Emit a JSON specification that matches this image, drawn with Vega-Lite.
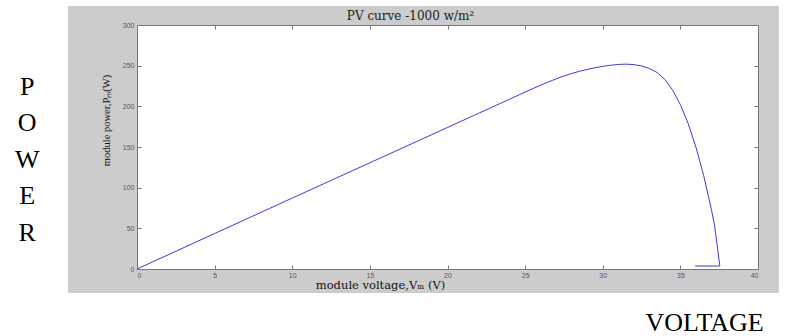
{
  "$schema": "https://vega.github.io/schema/vega-lite/v6.json",
  "width": 621,
  "height": 244,
  "autosize": {"type": "none"},
  "padding": {"left": 137, "top": 25, "right": 35, "bottom": 67},
  "background": "#cccccc",
  "config": {
    "view": {"stroke": null, "fill": "#ffffff"},
    "axis": {
      "zindex": 1,
      "grid": false,
      "domainColor": "#777777",
      "domainWidth": 1,
      "tickColor": "#777777",
      "tickSize": -4,
      "labelFont": "Liberation Sans",
      "labelFontSize": 7,
      "labelColor": "#555555"
    }
  },
  "resolve": {"scale": {"x": "independent", "y": "independent"}},
  "layer": [
    {
      "data": {"name": "pv", "values": [
        {"i": 1, "V": 0, "P": 0},
        {"i": 2, "V": 5, "P": 43.6},
        {"i": 3, "V": 10, "P": 87.2},
        {"i": 4, "V": 15, "P": 130.6},
        {"i": 5, "V": 20, "P": 174},
        {"i": 6, "V": 22, "P": 191.4},
        {"i": 7, "V": 24, "P": 208.8},
        {"i": 8, "V": 25, "P": 217.5},
        {"i": 9, "V": 25.5, "P": 221.8},
        {"i": 10, "V": 26, "P": 226},
        {"i": 11, "V": 26.5, "P": 230},
        {"i": 12, "V": 27, "P": 233.8},
        {"i": 13, "V": 27.5, "P": 237.3},
        {"i": 14, "V": 28, "P": 240.4},
        {"i": 15, "V": 28.5, "P": 243.1},
        {"i": 16, "V": 29, "P": 245.4},
        {"i": 17, "V": 29.5, "P": 247.4},
        {"i": 18, "V": 30, "P": 249.1},
        {"i": 19, "V": 30.5, "P": 250.5},
        {"i": 20, "V": 31, "P": 251.5},
        {"i": 21, "V": 31.5, "P": 251.9},
        {"i": 22, "V": 32, "P": 251.3},
        {"i": 23, "V": 32.5, "P": 249.6},
        {"i": 24, "V": 33, "P": 246.6},
        {"i": 25, "V": 33.5, "P": 241.6},
        {"i": 26, "V": 34, "P": 233},
        {"i": 27, "V": 34.5, "P": 220},
        {"i": 28, "V": 35, "P": 202},
        {"i": 29, "V": 35.5, "P": 179},
        {"i": 30, "V": 36, "P": 150},
        {"i": 31, "V": 36.5, "P": 115},
        {"i": 32, "V": 37, "P": 73},
        {"i": 33, "V": 37.2, "P": 54},
        {"i": 34, "V": 37.35, "P": 32},
        {"i": 35, "V": 37.54, "P": 3.7},
        {"i": 36, "V": 35.95, "P": 3.7}
      ]},
      "mark": {"type": "line", "color": "#3b3bd6", "strokeWidth": 1},
      "encoding": {
        "x": {
          "field": "V", "type": "quantitative",
          "scale": {"domain": [0, 40], "nice": false},
          "axis": {
            "orient": "bottom",
            "values": [0, 5, 10, 15, 20, 25, 30, 35, 40],
            "labelPadding": 6,
            "title": "module voltage,Vₘ (V)",
            "titleFont": "DejaVu Serif",
            "titleFontSize": 11.5,
            "titleFontWeight": "normal",
            "titleColor": "#111111",
            "titleX": 243,
            "titleY": 16,
            "titleAlign": "center",
            "titleBaseline": "middle"
          }
        },
        "y": {
          "field": "P", "type": "quantitative",
          "scale": {"domain": [0, 300], "nice": false},
          "axis": {
            "orient": "left",
            "values": [0, 50, 100, 150, 200, 250, 300],
            "labelPadding": 7,
            "title": "module power,Pₘ(W)",
            "titleFont": "Liberation Serif",
            "titleFontSize": 10.5,
            "titleFontWeight": "normal",
            "titleColor": "#111111",
            "titleAngle": -90,
            "titleX": -31,
            "titleY": 95,
            "titleAlign": "center",
            "titleBaseline": "middle"
          }
        },
        "order": {"field": "i", "type": "quantitative"}
      }
    },
    {
      "data": {"name": "pv"},
      "mark": {"type": "line", "strokeOpacity": 0},
      "encoding": {
        "x": {
          "field": "V", "type": "quantitative",
          "scale": {"domain": [0, 40], "nice": false},
          "axis": {
            "orient": "top",
            "values": [0, 5, 10, 15, 20, 25, 30, 35, 40],
            "labels": false,
            "title": "PV curve -1000 w/m²",
            "titleFont": "DejaVu Serif",
            "titleFontSize": 12,
            "titleFontWeight": "normal",
            "titleColor": "#222222",
            "titleX": 273,
            "titleY": -10,
            "titleAlign": "center",
            "titleBaseline": "middle"
          }
        },
        "y": {
          "field": "P", "type": "quantitative",
          "scale": {"domain": [0, 300], "nice": false},
          "axis": {"orient": "right", "values": [0, 50, 100, 150, 200, 250, 300], "labels": false, "title": null}
        },
        "order": {"field": "i", "type": "quantitative"}
      }
    },
    {
      "data": {"values": [{}]},
      "mark": {"type": "rect", "color": "#ffffff"},
      "encoding": {
        "x": {"datum": -9.5, "type": "quantitative", "scale": {"domain": [0, 40], "nice": false}, "axis": null},
        "x2": {"datum": -4.44},
        "y": {"datum": -90, "type": "quantitative", "scale": {"domain": [0, 300], "nice": false}, "axis": null},
        "y2": {"datum": 340}
      }
    },
    {
      "data": {"values": [{}]},
      "mark": {"type": "rect", "color": "#ffffff"},
      "encoding": {
        "x": {"datum": 41.35, "type": "quantitative", "scale": {"domain": [0, 40], "nice": false}, "axis": null},
        "x2": {"datum": 43},
        "y": {"datum": -90, "type": "quantitative", "scale": {"domain": [0, 300], "nice": false}, "axis": null},
        "y2": {"datum": 340}
      }
    },
    {
      "data": {"values": [{}]},
      "mark": {"type": "rect", "color": "#ffffff"},
      "encoding": {
        "x": {"datum": -9.5, "type": "quantitative", "scale": {"domain": [0, 40], "nice": false}, "axis": null},
        "x2": {"datum": 43},
        "y": {"datum": 323.4, "type": "quantitative", "scale": {"domain": [0, 300], "nice": false}, "axis": null},
        "y2": {"datum": 340}
      }
    },
    {
      "data": {"values": [{}]},
      "mark": {"type": "rect", "color": "#ffffff"},
      "encoding": {
        "x": {"datum": -9.5, "type": "quantitative", "scale": {"domain": [0, 40], "nice": false}, "axis": null},
        "x2": {"datum": 43},
        "y": {"datum": -90, "type": "quantitative", "scale": {"domain": [0, 300], "nice": false}, "axis": null},
        "y2": {"datum": -29.5}
      }
    },
    {
      "data": {"values": [{}]},
      "mark": {
        "type": "text",
        "text": ["P", "O", "W", "E", "R"],
        "lineHeight": 36.5,
        "font": "Liberation Serif",
        "fontSize": 26,
        "color": "#000000",
        "align": "center",
        "baseline": "middle"
      },
      "encoding": {
        "x": {"datum": -7.07, "type": "quantitative", "scale": {"domain": [0, 40], "nice": false}, "axis": null},
        "y": {"datum": 224, "type": "quantitative", "scale": {"domain": [0, 300], "nice": false}, "axis": null}
      }
    },
    {
      "data": {"values": [{}]},
      "mark": {
        "type": "text",
        "text": "VOLTAGE",
        "font": "Liberation Serif",
        "fontSize": 26,
        "color": "#000000",
        "align": "center",
        "baseline": "middle"
      },
      "encoding": {
        "x": {"datum": 36.56, "type": "quantitative", "scale": {"domain": [0, 40], "nice": false}, "axis": null},
        "y": {"datum": -66, "type": "quantitative", "scale": {"domain": [0, 300], "nice": false}, "axis": null}
      }
    }
  ]
}
